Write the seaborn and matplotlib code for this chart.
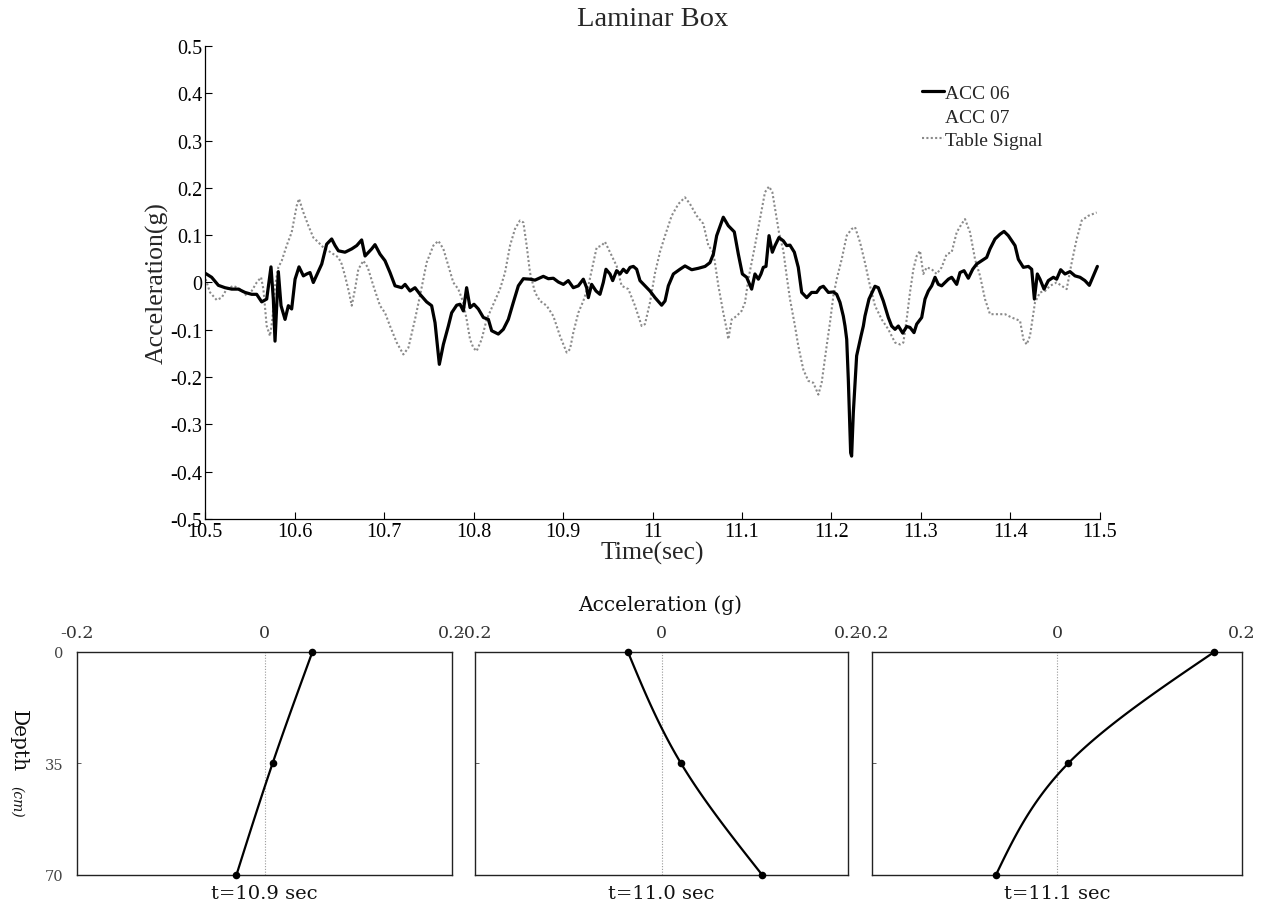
import numpy as np
import pandas as pd
import matplotlib
matplotlib.use("Agg")
import matplotlib.pyplot as plt
from matplotlib.lines import Line2D
import seaborn as sns

# ---------------- time histories (Laminar Box test) ----------------
acc06_t = [10.5007, 10.5074, 10.5149, 10.5223, 10.5298, 10.5372, 10.5447, 10.5521, 10.5577, 10.5633,
           10.5689, 10.5737, 10.5763, 10.5782, 10.5819, 10.5849, 10.5894, 10.5931, 10.5968, 10.6006,
           10.6050, 10.6099, 10.6136, 10.6173, 10.6210, 10.6304, 10.6359, 10.6415, 10.6453, 10.6490,
           10.6564, 10.6639, 10.6695, 10.6750, 10.6788, 10.6862, 10.6899, 10.6955, 10.7011, 10.7067,
           10.7123, 10.7197, 10.7235, 10.7291, 10.7346, 10.7402,
           10.7476, 10.7532, 10.7570, 10.7618, 10.7663, 10.7719, 10.7756, 10.7812, 10.7849, 10.7886,
           10.7923, 10.7961, 10.8005, 10.8054, 10.8110, 10.8166, 10.8203, 10.8277, 10.8333, 10.8389,
           10.8445, 10.8501, 10.8557, 10.8631, 10.8687, 10.8780, 10.8836, 10.8892, 10.8948, 10.9004,
           10.9059, 10.9115, 10.9171, 10.9227, 10.9264, 10.9283, 10.9320, 10.9369, 10.9413, 10.9450,
           10.9480, 10.9525, 10.9555, 10.9599, 10.9637, 10.9674, 10.9711, 10.9749, 10.9786, 10.9823,
           10.9860, 10.9916, 10.9972, 11.0028,
           11.0102, 11.0140, 11.0177, 11.0233, 11.0307, 11.0363, 11.0438, 11.0512, 11.0587, 11.0642,
           11.0680, 11.0717, 11.0791, 11.0847, 11.0914, 11.0959, 11.1004, 11.1052, 11.1108, 11.1145,
           11.1183, 11.1212, 11.1238, 11.1268, 11.1302, 11.1339, 11.1369, 11.1413, 11.1462, 11.1499,
           11.1536, 11.1585, 11.1629, 11.1667, 11.1723, 11.1778, 11.1834, 11.1872, 11.1909, 11.1965,
           11.2021, 11.2058, 11.2095, 11.2132, 11.2151, 11.2170, 11.2188, 11.2214, 11.2225, 11.2244,
           11.2281, 11.2330, 11.2356, 11.2374, 11.2419, 11.2486, 11.2523, 11.2579, 11.2635, 11.2672,
           11.2710, 11.2747, 11.2796, 11.2840, 11.2877, 11.2922, 11.2952, 11.3008, 11.3045, 11.3082,
           11.3120, 11.3157, 11.3194, 11.3231, 11.3269, 11.3306, 11.3343, 11.3399, 11.3436, 11.3481,
           11.3529, 11.3578, 11.3622, 11.3678, 11.3734, 11.3771, 11.3827, 11.3883, 11.3928, 11.3976,
           11.4051, 11.4088, 11.4144, 11.4200, 11.4237, 11.4267, 11.4300, 11.4330, 11.4375, 11.4423,
           11.4479, 11.4516, 11.4561, 11.4609, 11.4665, 11.4721, 11.4777, 11.4832, 11.4881, 11.4926,
           11.4971]
acc06_g = [0.019, 0.011, -0.006, -0.011, -0.014, -0.014, -0.021, -0.025, -0.025, -0.041,
           -0.035, 0.033, -0.035, -0.124, 0.023, -0.049, -0.078, -0.049, -0.056, 0.007,
           0.033, 0.014, 0.018, 0.021, 0.000, 0.039, 0.081, 0.092, 0.078, 0.067,
           0.064, 0.071, 0.078, 0.090, 0.056, 0.071, 0.080, 0.060, 0.046, 0.021,
           -0.007, -0.011, -0.004, -0.018, -0.011, -0.025,
           -0.041, -0.049, -0.085, -0.173, -0.131, -0.092, -0.064, -0.048, -0.046, -0.060,
           -0.011, -0.053, -0.046, -0.056, -0.074, -0.078, -0.102, -0.109, -0.099, -0.078,
           -0.042, -0.007, 0.008, 0.007, 0.005, 0.013, 0.008, 0.009, 0.001, -0.004,
           0.004, -0.011, -0.007, 0.007, -0.011, -0.032, -0.004, -0.018, -0.025, 0.000,
           0.028, 0.018, 0.004, 0.025, 0.018, 0.028, 0.021, 0.032, 0.034, 0.028,
           0.004, -0.007, -0.018, -0.032,
           -0.048, -0.039, -0.007, 0.018, 0.028, 0.035, 0.027, 0.030, 0.034, 0.042,
           0.060, 0.099, 0.138, 0.120, 0.107, 0.060, 0.018, 0.011, -0.014, 0.018,
           0.007, 0.018, 0.032, 0.034, 0.099, 0.064, 0.078, 0.095, 0.088, 0.078,
           0.079, 0.064, 0.032, -0.021, -0.032, -0.021, -0.021, -0.011, -0.008, -0.021,
           -0.020, -0.025, -0.042, -0.071, -0.092, -0.120, -0.205, -0.360, -0.367, -0.275,
           -0.155, -0.113, -0.092, -0.071, -0.035, -0.008, -0.011, -0.039, -0.074, -0.092,
           -0.099, -0.092, -0.107, -0.093, -0.095, -0.106, -0.088, -0.074, -0.035, -0.018,
           -0.007, 0.011, -0.004, -0.007, 0.000, 0.007, 0.011, -0.004, 0.021, 0.025,
           0.009, 0.028, 0.039, 0.046, 0.053, 0.071, 0.092, 0.102, 0.108, 0.099,
           0.078, 0.049, 0.032, 0.034, 0.028, -0.035, 0.018, 0.007, -0.014, 0.004,
           0.011, 0.007, 0.027, 0.018, 0.023, 0.014, 0.011, 0.004, -0.006, 0.014,
           0.034]

table_t = [10.5007, 10.5056, 10.5130, 10.5186, 10.5242, 10.5317, 10.5391, 10.5466, 10.5521, 10.5577,
           10.5626, 10.5652, 10.5689, 10.5726, 10.5752, 10.5782, 10.5819, 10.5857, 10.5912, 10.5968,
           10.6024, 10.6050, 10.6099, 10.6155, 10.6210, 10.6266, 10.6322, 10.6378, 10.6434, 10.6490,
           10.6527, 10.6564, 10.6609, 10.6639, 10.6676, 10.6713, 10.6769, 10.6818, 10.6881, 10.6955,
           10.7011, 10.7067, 10.7142, 10.7216, 10.7272, 10.7346, 10.7402,
           10.7476, 10.7551, 10.7607, 10.7663, 10.7719, 10.7774, 10.7830, 10.7886, 10.7923, 10.7961,
           10.7998, 10.8035, 10.8091, 10.8147, 10.8221, 10.8296, 10.8352, 10.8408, 10.8463, 10.8519,
           10.8557, 10.8594, 10.8631, 10.8687, 10.8743, 10.8817, 10.8892, 10.8966, 10.9041, 10.9078,
           10.9115, 10.9171, 10.9227, 10.9283, 10.9339, 10.9376, 10.9432, 10.9469, 10.9525, 10.9599,
           10.9655, 10.9730, 10.9804, 10.9879, 10.9916, 10.9972,
           11.0028, 11.0084, 11.0140, 11.0214, 11.0289, 11.0363, 11.0419, 11.0494, 11.0568, 11.0624,
           11.0680, 11.0736, 11.0791, 11.0829, 11.0847, 11.0885, 11.0940, 11.0996, 11.1034, 11.1071,
           11.1108, 11.1145, 11.1201, 11.1257, 11.1302, 11.1339, 11.1376, 11.1413, 11.1462, 11.1499,
           11.1536, 11.1592, 11.1629, 11.1685, 11.1741, 11.1797, 11.1853, 11.1890, 11.1946, 11.1983,
           11.2021, 11.2058, 11.2114, 11.2170, 11.2225, 11.2263, 11.2319, 11.2374, 11.2430, 11.2486,
           11.2561, 11.2635,
           11.2710, 11.2766, 11.2803, 11.2840, 11.2877, 11.2915, 11.2952, 11.2989, 11.3026, 11.3064,
           11.3120, 11.3175, 11.3231, 11.3287, 11.3343, 11.3399, 11.3455, 11.3492, 11.3548, 11.3604,
           11.3660, 11.3715, 11.3771, 11.3846, 11.3939, 11.4013, 11.4107, 11.4144, 11.4181, 11.4218,
           11.4274, 11.4330, 11.4386, 11.4442, 11.4516, 11.4572, 11.4628, 11.4684, 11.4740, 11.4796,
           11.4870, 11.4963]
table_g = [0.007, -0.021, -0.037, -0.032, -0.014, -0.007, -0.014, -0.028, -0.018, 0.000,
           0.011, -0.014, -0.092, -0.113, -0.078, -0.007, 0.032, 0.046, 0.078, 0.106,
           0.162, 0.177, 0.148, 0.120, 0.095, 0.085, 0.074, 0.067, 0.060, 0.053,
           0.039, 0.014, -0.021, -0.049, -0.014, 0.028, 0.046, 0.032, -0.007, -0.049,
           -0.064, -0.092, -0.127, -0.152, -0.138, -0.078, -0.028,
           0.042, 0.078, 0.088, 0.071, 0.035, 0.000, -0.014, -0.042, -0.078, -0.120,
           -0.138, -0.145, -0.120, -0.078, -0.046, -0.014, 0.021, 0.078, 0.113, 0.131,
           0.127, 0.078, 0.021, -0.021, -0.039, -0.049, -0.071, -0.113, -0.148, -0.141,
           -0.106, -0.064, -0.039, -0.007, 0.042, 0.074, 0.078, 0.086, 0.064, 0.035,
           -0.007, -0.014, -0.049, -0.092, -0.088, -0.042,
           0.020, 0.065, 0.099, 0.141, 0.166, 0.180, 0.166, 0.141, 0.124, 0.078,
           0.064, -0.007, -0.064, -0.099, -0.120, -0.078, -0.071, -0.060, -0.042, 0.007,
           0.042, 0.078, 0.134, 0.191, 0.203, 0.191, 0.148, 0.106, 0.067, 0.014,
           -0.035, -0.092, -0.134, -0.184, -0.208, -0.212, -0.237, -0.212, -0.134, -0.085,
           -0.028, 0.007, 0.049, 0.099, 0.113, 0.117, 0.085, 0.042, -0.007, -0.049,
           -0.078, -0.099,
           -0.127, -0.131, -0.127, -0.078, -0.021, 0.028, 0.056, 0.067, 0.018, 0.032,
           0.028, 0.018, 0.032, 0.060, 0.064, 0.106, 0.124, 0.134, 0.106, 0.049,
           0.014, -0.035, -0.067, -0.067, -0.067, -0.074, -0.081, -0.120, -0.131, -0.113,
           -0.042, -0.021, -0.018, -0.007, 0.000, -0.007, -0.014, 0.042, 0.092, 0.131,
           0.141, 0.148]

time_ticks = [10.5, 10.6, 10.7, 10.8, 10.9, 11.0, 11.1, 11.2, 11.3, 11.4, 11.5]
time_labels = ["10.5", "10.6", "10.7", "10.8", "10.9", "11", "11.1", "11.2", "11.3", "11.4", "11.5"]
acc_ticks = [0.5, 0.4, 0.3, 0.2, 0.1, 0.0, -0.1, -0.2, -0.3, -0.4, -0.5]
acc_labels = ["0.5", "0.4", "0.3", "0.2", "0.1", "0", "-0.1", "-0.2", "-0.3", "-0.4", "-0.5"]

# ---------------- acceleration profiles along depth ----------------
depths = [0, 35, 70]
profile_times = ["t=10.9 sec", "t=11.0 sec", "t=11.1 sec"]
profile_acc = [
    [0.051, 0.0085, -0.030],
    [-0.036, 0.021, 0.108],
    [0.170, 0.012, -0.066],
]
profile_xticks = [-0.2, 0.0, 0.2]
profile_xlabels = ["-0.2", "0", "0.2"]
depth_ticks = [0, 35, 70]
depth_labels = ["0", "35", "70"]

sns.set_theme(style="ticks")
plt.rcParams["font.family"] = ["Liberation Serif", "DejaVu Serif"]
plt.rcParams["axes.unicode_minus"] = False

fig = plt.figure(figsize=(12.61, 9.12), dpi=100)

# ---------------- top: time histories ----------------
ax = fig.add_axes([0.1626, 0.4298, 0.7097, 0.5187])
ts_df = pd.DataFrame({"t": acc06_t, "g": acc06_g})
tb_df = pd.DataFrame({"t": table_t, "g": table_g})
sns.lineplot(data=tb_df, x="t", y="g", ax=ax, color="#8a8a8a", lw=1.5,
             linestyle=(0, (1, 1.1)), estimator=None, sort=False)
sns.lineplot(data=ts_df, x="t", y="g", ax=ax, color="black", lw=2.3,
             estimator=None, sort=False)
ax.set_xlim(10.5, 11.5)
ax.set_ylim(-0.5, 0.5)
ax.set_xticks(time_ticks)
ax.set_xticklabels(time_labels)
ax.set_yticks(acc_ticks)
ax.set_yticklabels(acc_labels)
ax.tick_params(direction="in", length=5, width=0.8, labelsize=14.5, colors="black", pad=2)
sns.despine(ax=ax)
for s in ("left", "bottom"):
    ax.spines[s].set_linewidth(0.9)
    ax.spines[s].set_color("black")
ax.set_xlabel("Time(sec)", fontsize=18.5, labelpad=0)
ax.set_ylabel("Acceleration(g)", fontsize=18.5, labelpad=1)
ax.set_title("Laminar Box", fontsize=20.5, pad=15)

handles = [
    Line2D([], [], color="black", lw=2.3),
    Line2D([], [], color="none", lw=2.3),
    Line2D([], [], color="#8a8a8a", lw=1.5, linestyle=(0, (1, 1.1))),
]
ax.legend(handles, ["ACC 06", "ACC 07", "Table Signal"], loc="upper left",
          bbox_to_anchor=(0.792, 0.935), frameon=False, fontsize=14,
          handlelength=1.15, handletextpad=0.05, labelspacing=0.3, borderaxespad=0)

# ---------------- bottom: depth profiles ----------------
def natural_spline(d, x, n=60):
    d = np.asarray(d, float)
    x = np.asarray(x, float)
    h = np.diff(d)
    m = len(d)
    A = np.zeros((m, m))
    b = np.zeros(m)
    A[0, 0] = A[-1, -1] = 1.0
    for i in range(1, m - 1):
        A[i, i - 1] = h[i - 1]
        A[i, i] = 2 * (h[i - 1] + h[i])
        A[i, i + 1] = h[i]
        b[i] = 6 * ((x[i + 1] - x[i]) / h[i] - (x[i] - x[i - 1]) / h[i - 1])
    M = np.linalg.solve(A, b)
    dd = np.linspace(d[0], d[-1], n)
    out = np.empty_like(dd)
    for k, z in enumerate(dd):
        i = min(np.searchsorted(d, z, side="right") - 1, m - 2)
        hi = h[i]
        a1 = d[i + 1] - z
        a2 = z - d[i]
        out[k] = (M[i] * a1 ** 3 / (6 * hi) + M[i + 1] * a2 ** 3 / (6 * hi)
                  + (x[i] - M[i] * hi ** 2 / 6) * a1 / hi
                  + (x[i + 1] - M[i + 1] * hi ** 2 / 6) * a2 / hi)
    return dd, out

panel_lefts = [0.0611, 0.3767, 0.6915]
panel_widths = [0.2974, 0.2958, 0.2934]
serif_b = ["DejaVu Serif"]
for i, (lft, wd) in enumerate(zip(panel_lefts, panel_widths)):
    pax = fig.add_axes([lft, 0.0395, wd, 0.2445])
    pax.axvline(0, color="#9a9a9a", lw=0.8, linestyle=(0, (1, 1.5)))
    dd, xx = natural_spline(depths, profile_acc[i])
    sns.lineplot(x=xx, y=dd, ax=pax, color="black", lw=1.6, estimator=None, sort=False)
    sns.scatterplot(x=profile_acc[i], y=depths, ax=pax, color="black", s=30,
                    edgecolor="black", linewidth=0, zorder=5, clip_on=False)
    pax.set_xlim(-0.2, 0.2)
    pax.set_ylim(70, 0)
    pax.xaxis.tick_top()
    pax.set_xticks(profile_xticks)
    pax.set_xticklabels(profile_xlabels, family=serif_b)
    pax.set_yticks(depth_ticks)
    if i == 0:
        pax.set_yticklabels(depth_labels, family=serif_b)
    else:
        pax.set_yticklabels([])
    pax.tick_params(axis="x", direction="in", length=0, labelsize=12.5, colors="#333333", pad=8)
    pax.tick_params(axis="y", direction="in", length=3, width=0.6, labelsize=10.5,
                    colors="#444444", pad=10)
    for s in pax.spines.values():
        s.set_linewidth(1.0)
        s.set_color("#222222")
    pax.set_xlabel("")
    pax.set_ylabel("")
    pax.text(0.5, -0.04, profile_times[i], transform=pax.transAxes, ha="center", va="top",
             fontsize=14, family=serif_b, color="#111111")

fig.text(0.5234, 1 - 605 / 912, "Acceleration (g)", ha="center", va="center",
         fontsize=14.5, family=serif_b, color="#111111")
fig.text(18 / 1261, 1 - 741 / 912, "Depth", rotation=-90, ha="center", va="center",
         fontsize=14.5, family=serif_b, color="#111111")
fig.text(17 / 1261, 1 - 802 / 912, "(cm)", rotation=-90, ha="center", va="center",
         fontsize=10, family=serif_b, style="italic", color="#111111")

fig.savefig("out.png", dpi=100)
